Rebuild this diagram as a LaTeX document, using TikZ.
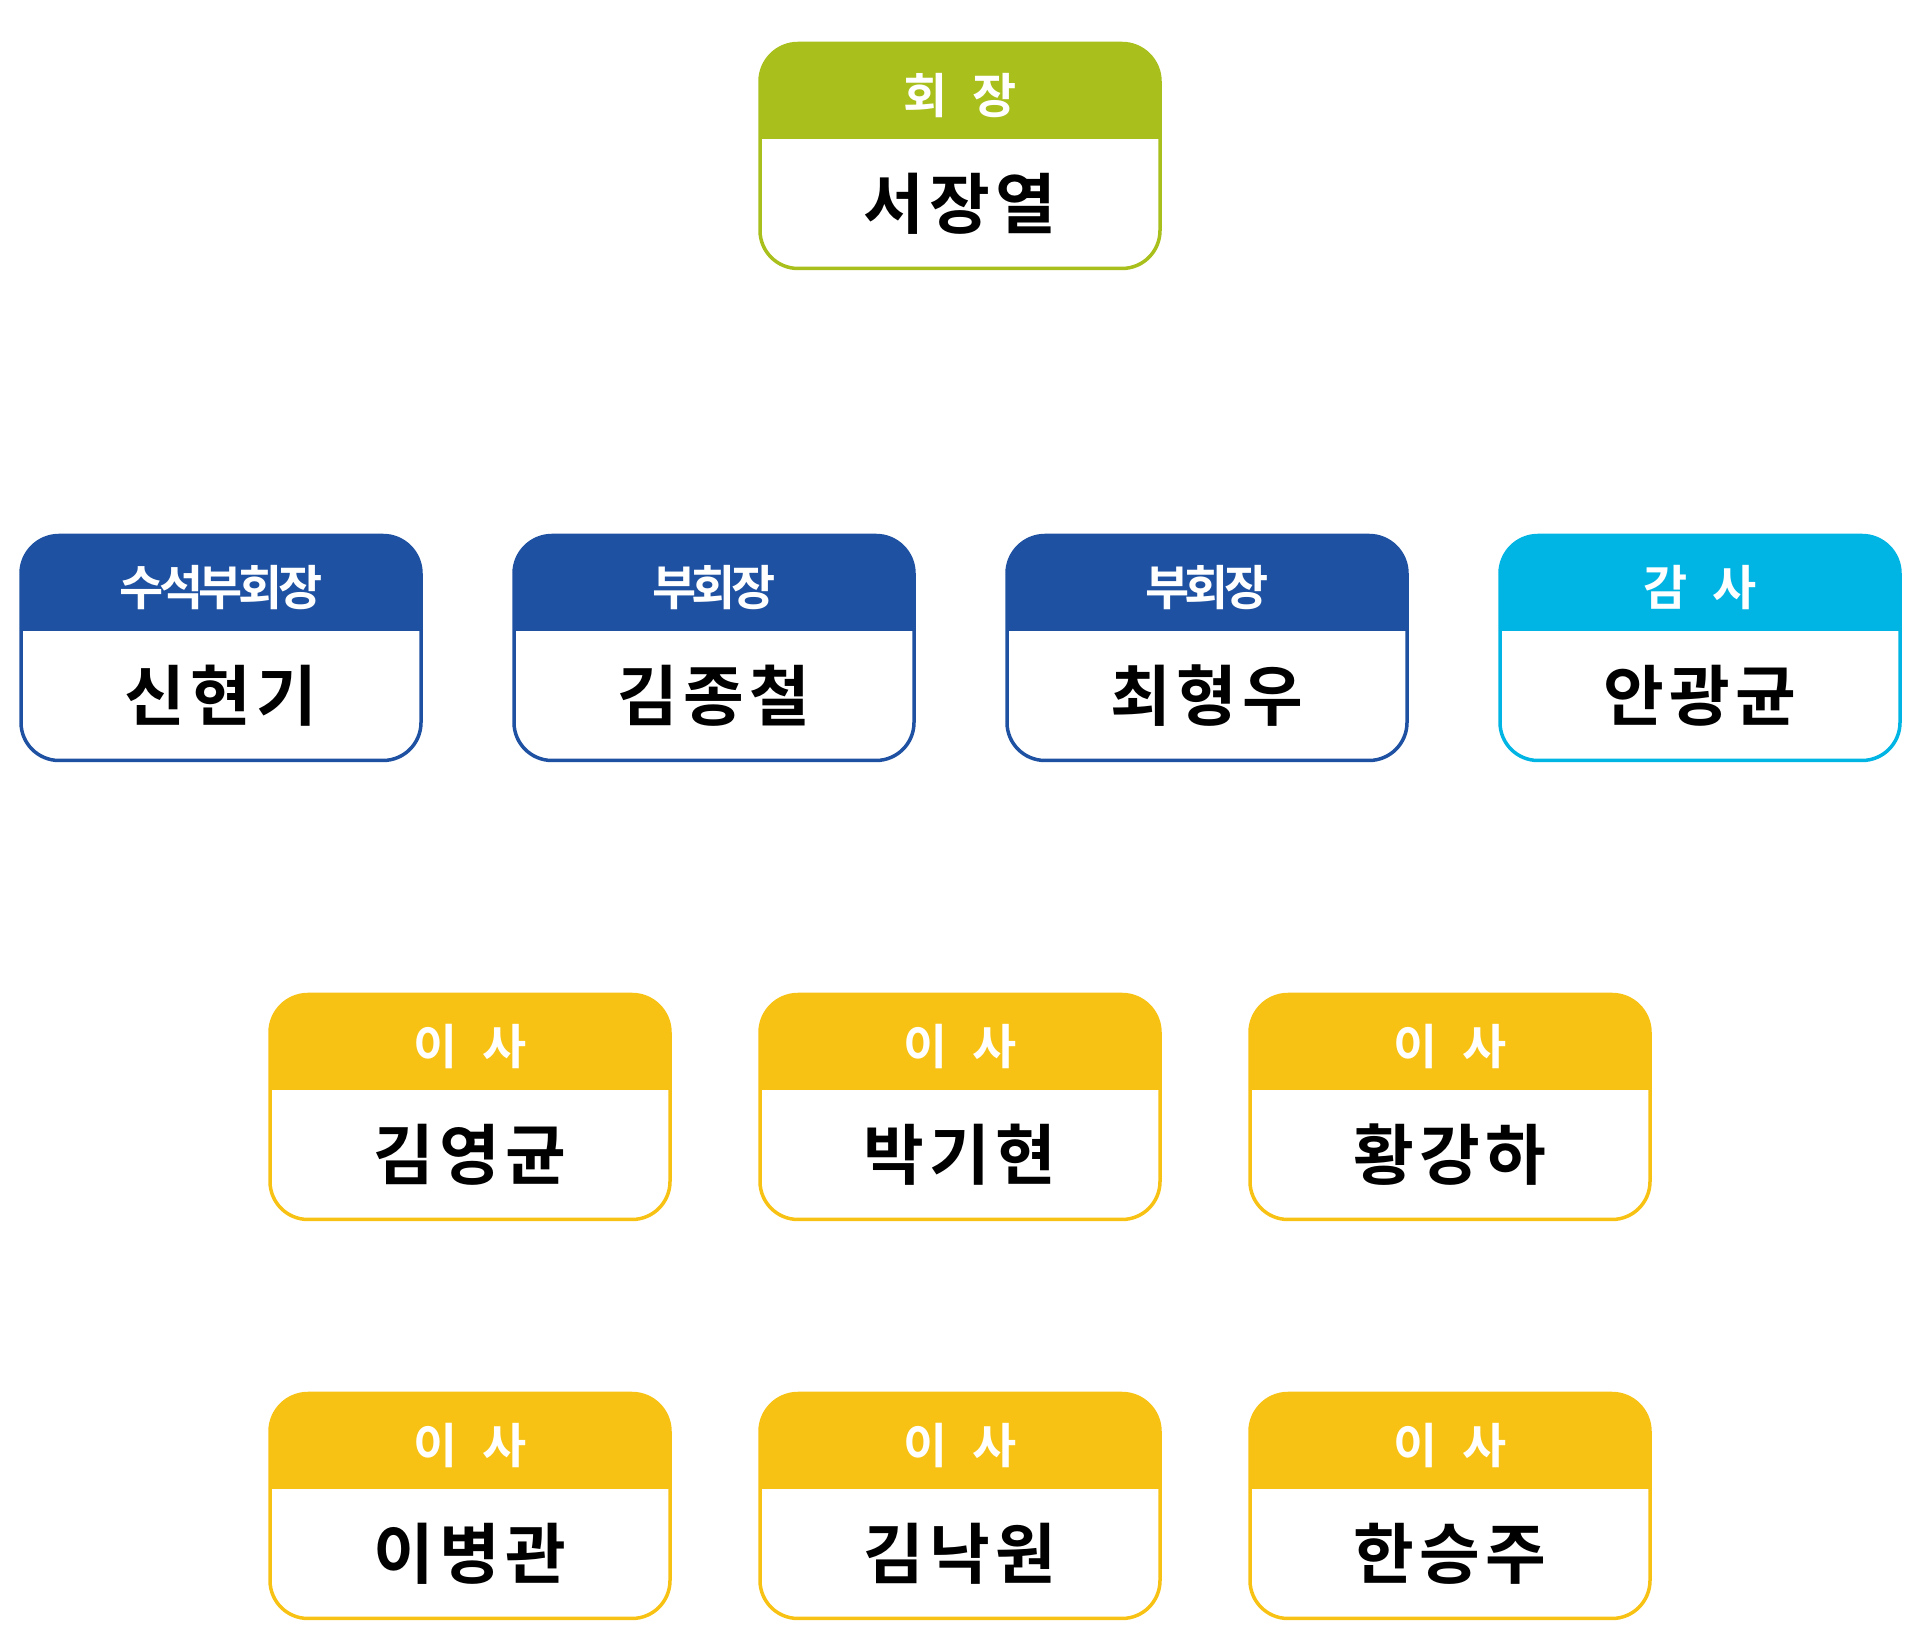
\documentclass[tikz,border=0pt]{standalone}
\usepackage{fontspec}
\newfontfamily\krname{Noto Sans CJK KR Bold}[LetterSpace=8]
\newfontfamily\krhead{Noto Sans CJK KR Bold}[LetterSpace=-9]
\definecolor{cgreen}{RGB}{169,191,28}
\definecolor{cblue}{RGB}{30,81,162}
\definecolor{ccyan}{RGB}{0,180,228}
\definecolor{cyellow}{RGB}{248,194,20}
\tikzset{
  card/.style={draw=#1, line width=3.5pt, rounded corners=38pt, minimum width=400pt,
    minimum height=225pt, inner sep=0pt,
    path picture={\fill[#1, sharp corners] (path picture bounding box.north west)
      rectangle ([yshift=-96pt]path picture bounding box.north east);}},
  role/.style={text=white, inner sep=0pt, font=\krhead\fontsize{48}{48}\selectfont},
  who/.style={inner sep=0pt, font=\krname\fontsize{66}{66}\selectfont},
}

\begin{document}
\begin{tikzpicture}[x=1pt,y=1pt]
  \useasboundingbox (0,0) rectangle (1920,1646);
  % chairman
  \node[card=cgreen] (chair) at (960,1490) {};
  \node[role] (chairrole) at ([yshift=-54pt]chair.north) {회\hspace{24pt}장};
  \node[who] (chairname) at ([yshift=-162pt]chair.north) {서장열};
  % vice chairmen and auditor
  \foreach \id/\x/\col/\role/\name in {
      vpa/221/cblue/{수석부회장}/신현기,
      vpb/714/cblue/{부회장}/김종철,
      vpc/1207/cblue/{부회장}/최형우,
      aud/1700/ccyan/{감\hspace{24pt}사}/안광균} {
    \node[card=\col] (\id) at (\x,998) {};
    \node[role] (\id role) at ([yshift=-54pt]\id.north) {\role};
    \node[who] (\id name) at ([yshift=-162pt]\id.north) {\name};
  }
  % directors
  \foreach \id/\x/\y/\name in {
      dra/470/539/김영균, drb/960/539/박기현, drc/1450/539/황강하,
      drd/470/140/이병관, dre/960/140/김낙원, drf/1450/140/한승주} {
    \node[card=cyellow] (\id) at (\x,\y) {};
    \node[role] (\id role) at ([yshift=-54pt]\id.north) {이\hspace{24pt}사};
    \node[who] (\id name) at ([yshift=-162pt]\id.north) {\name};
  }
\end{tikzpicture}
\end{document}
